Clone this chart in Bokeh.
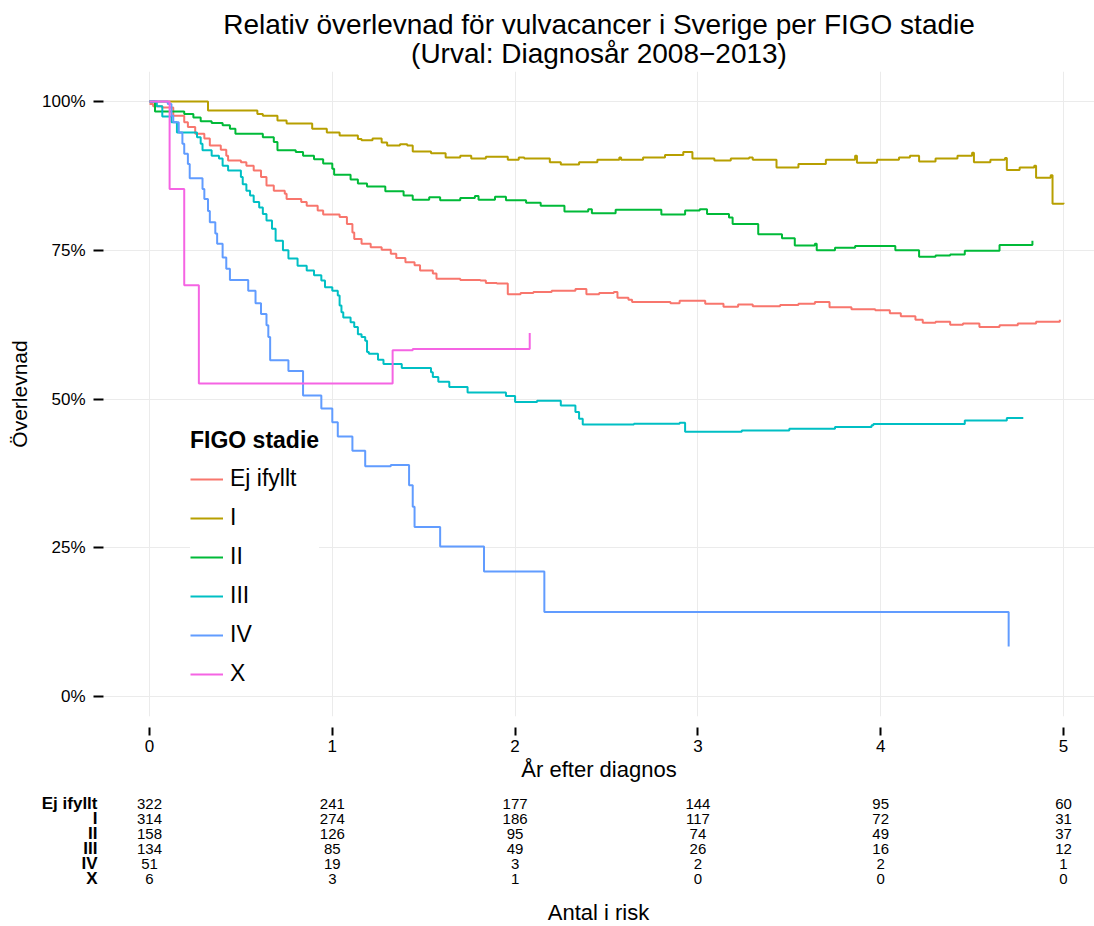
from bokeh.plotting import figure
from bokeh.models import (Range1d, FixedTicker, NumeralTickFormatter, Legend,
                          LegendItem, Title)
from bokeh.layouts import column
from bokeh.embed import file_html
from bokeh.resources import INLINE
from bokeh.core.properties import value

# ---------------- data ----------------
stages = ["Ej ifyllt", "I", "II", "III", "IV", "X"]
colors = ["#F8766D", "#B79F00", "#00BA38", "#00BFC4", "#619CFF", "#F564E3"]

t_ej = [0, 0.02, 0.07, 0.13, 0.19, 0.21, 0.25, 0.30, 0.33, 0.39,
        0.42, 0.43, 0.50, 0.53, 0.57, 0.61, 0.64, 0.68, 0.74, 0.75,
        0.83, 0.86, 0.92, 0.95, 1.04, 1.08, 1.11, 1.12, 1.16, 1.21,
        1.27, 1.32, 1.35, 1.40, 1.45, 1.48, 1.55, 1.57, 1.70, 1.81,
        1.84, 1.90, 1.96, 2.03, 2.10, 2.20, 2.33, 2.39, 2.46, 2.54,
        2.56, 2.62, 2.64, 2.85, 2.90, 3.04, 3.14, 3.22, 3.30, 3.45,
        3.55, 3.64, 3.72, 3.84, 3.97, 4.05, 4.11, 4.19, 4.23, 4.30,
        4.38, 4.45, 4.54, 4.65, 4.75, 4.85, 4.98]
s_ej = [99.6, 99.2, 99.0, 97.6, 96.5, 95.7, 94.6, 93.8, 92.6, 91.9,
        90.9, 90.1, 89.8, 89.2, 88.4, 87.3, 85.9, 85.0, 84.5, 83.6,
        83.1, 82.5, 81.7, 81.0, 80.6, 79.4, 78.0, 76.9, 76.1, 75.5,
        75.1, 74.4, 73.7, 73.0, 72.5, 71.6, 71.1, 70.2, 70.0, 69.9,
        69.5, 69.4, 67.6, 67.8, 68.0, 68.2, 68.5, 67.6, 67.8, 68.0,
        67.0, 66.7, 66.3, 66.1, 66.5, 66.0, 65.5, 65.9, 65.6, 65.8,
        66.0, 66.3, 65.4, 65.1, 64.9, 64.4, 63.9, 63.3, 62.8, 63.0,
        62.5, 62.7, 62.1, 62.4, 62.7, 63.0, 63.3]

t_i = [0, 0.32, 0.59, 0.62, 0.70, 0.75, 0.89, 0.97, 1.04, 1.14,
       1.16, 1.22, 1.27, 1.30, 1.37, 1.41, 1.44, 1.54, 1.62, 1.70,
       1.76, 1.84, 1.96, 2.02, 2.05, 2.19, 2.25, 2.35, 2.45, 2.57,
       2.58, 2.70, 2.82, 2.92, 2.97, 3.09, 3.18, 3.28, 3.30, 3.43,
       3.55, 3.70, 3.86, 3.87, 3.98, 4.10, 4.16, 4.21, 4.30, 4.42,
       4.50, 4.51, 4.60, 4.68, 4.69, 4.76, 4.84, 4.85, 4.93, 4.94,
       5.0]
s_i = [100, 98.5, 97.9, 97.6, 96.8, 96.3, 95.4, 94.8, 94.3, 93.7,
       93.5, 93.8, 93.1, 92.6, 92.8, 92.6, 91.6, 91.3, 90.6, 90.9,
       90.4, 90.7, 90.2, 90.6, 90.4, 89.8, 89.4, 89.8, 90.2, 90.6,
       90.2, 90.6, 91.0, 91.5, 90.4, 90.1, 90.4, 90.6, 90.2, 88.9,
       89.5, 90.2, 90.9, 89.7, 90.2, 90.6, 90.9, 89.9, 90.4, 90.9,
       91.4, 89.8, 90.2, 90.5, 88.5, 88.9, 89.2, 87.2, 87.6, 82.8,
       83.0]

t_ii = [0, 0.03, 0.19, 0.24, 0.28, 0.34, 0.40, 0.44, 0.47, 0.62,
        0.68, 0.70, 0.80, 0.84, 0.90, 0.95, 1.0, 1.01, 1.10, 1.14,
        1.19, 1.29, 1.39, 1.44, 1.53, 1.59, 1.70, 1.78, 1.80, 1.89,
        1.95, 2.06, 2.14, 2.27, 2.40, 2.42, 2.55, 2.80, 2.93, 3.01,
        3.05, 3.17, 3.19, 3.33, 3.46, 3.53, 3.64, 3.65, 3.75, 3.86,
        4.08, 4.21, 4.30, 4.38, 4.46, 4.65, 4.83]
s_ii = [100, 98.3, 97.9, 97.3, 96.7, 96.4, 96.0, 95.4, 94.6, 94.0,
        93.2, 91.8, 91.5, 90.9, 90.3, 89.6, 88.7, 87.7, 86.9, 86.2,
        85.7, 84.9, 84.2, 83.5, 83.9, 83.4, 83.8, 84.1, 83.5, 84.0,
        83.4, 83.0, 82.5, 81.5, 81.9, 81.2, 81.8, 81.0, 81.7, 81.9,
        81.1, 80.5, 79.4, 77.7, 77.0, 75.8, 76.1, 75.0, 75.4, 75.7,
        75.0, 73.9, 74.1, 74.3, 74.9, 75.9, 76.6]

t_iii = [0, 0.04, 0.07, 0.12, 0.15, 0.26, 0.28, 0.29, 0.34, 0.38,
         0.40, 0.43, 0.50, 0.51, 0.53, 0.55, 0.57, 0.60, 0.62, 0.64,
         0.67, 0.69, 0.73, 0.76, 0.81, 0.86, 0.90, 0.94, 0.96, 1.0,
         1.03, 1.04, 1.05, 1.06, 1.10, 1.12, 1.14, 1.16, 1.18, 1.19,
         1.20, 1.25, 1.28, 1.38, 1.54, 1.55, 1.58, 1.64, 1.74, 1.95,
         2.0, 2.12, 2.25, 2.33, 2.35, 2.37, 2.65, 2.90, 2.93, 3.24,
         3.50, 3.75, 3.95, 3.96, 4.46, 4.69, 4.78]
s_iii = [100, 99.2, 97.5, 96.5, 94.8, 94.0, 92.9, 91.8, 90.9, 90.4,
         89.2, 88.4, 87.3, 86.1, 85.0, 84.2, 83.1, 82.2, 81.1, 80.0,
         78.6, 76.6, 75.0, 73.6, 72.4, 71.6, 70.8, 69.9, 68.8, 68.2,
         67.4, 65.7, 64.6, 63.7, 62.9, 62.1, 60.9, 60.4, 59.8, 57.9,
         57.6, 56.6, 55.9, 55.2, 54.5, 53.7, 52.9, 52.0, 51.1, 50.5,
         49.5, 49.7, 48.9, 47.8, 46.7, 45.7, 45.85, 46.0, 44.5, 44.7,
         45.0, 45.3, 45.6, 45.8, 46.4, 46.8, 46.8]

t_iv = [0, 0.10, 0.12, 0.13, 0.16, 0.18, 0.19, 0.21, 0.22, 0.29,
        0.30, 0.32, 0.33, 0.36, 0.37, 0.40, 0.42, 0.44, 0.54, 0.58,
        0.61, 0.64, 0.65, 0.66, 0.76, 0.84, 0.94, 1.0, 1.03, 1.11,
        1.18, 1.32, 1.42, 1.44, 1.45, 1.59, 1.83, 2.16, 4.70]
s_iv = [100, 99.6, 97.6, 96.5, 94.8, 92.9, 91.2, 89.5, 87.1, 85.3,
        83.6, 81.6, 79.7, 77.8, 76.1, 73.8, 71.9, 70.0, 68.2, 66.1,
        64.3, 62.4, 60.4, 56.5, 54.7, 50.6, 48.4, 46.1, 43.7, 41.3,
        38.7, 38.9, 35.5, 31.9, 28.5, 25.2, 21.0, 14.2, 8.4]

t_x = [0, 0.11, 0.19, 0.27, 1.33, 1.44, 2.08]
s_x = [100, 85.3, 69.1, 52.6, 58.2, 58.4, 61.1]

risk_times = [0, 1, 2, 3, 4, 5]
risk_ej = [322, 241, 177, 144, 95, 60]
risk_i = [314, 274, 186, 117, 72, 31]
risk_ii = [158, 126, 95, 74, 49, 37]
risk_iii = [134, 85, 49, 26, 16, 12]
risk_iv = [51, 19, 3, 2, 2, 1]
risk_x = [6, 3, 1, 0, 0, 0]

x_ticks = [0, 1, 2, 3, 4, 5]
y_ticks = [0, 0.25, 0.5, 0.75, 1.0]

series_t = [t_ej, t_i, t_ii, t_iii, t_iv, t_x]
series_s = [s_ej, s_i, s_ii, s_iii, s_iv, s_x]
risk_rows = [risk_ej, risk_i, risk_ii, risk_iii, risk_iv, risk_x]

# ---------------- layout constants (pixels) ----------------
W = 1094
MAIN_H = 790
RISK_H = 926 - MAIN_H
X0_PX = 149.0          # screen x of year 0
PX_PER_YEAR = 182.8
FRAME_LEFT = 103
FRAME_TOP = 71
FRAME_BOTTOM = 716
Y0_PX = 696.0
Y100_PX = 101.0
PX_PER_UNIT = Y0_PX - Y100_PX

FONT = "Liberation Sans"

x_start = (FRAME_LEFT - X0_PX) / PX_PER_YEAR
x_end = (W - X0_PX) / PX_PER_YEAR
y_start = -(FRAME_BOTTOM - Y0_PX) / PX_PER_UNIT
y_end = 1 + (Y100_PX - FRAME_TOP) / PX_PER_UNIT

p = figure(width=W, height=MAIN_H, output_backend="svg", toolbar_location=None,
           x_range=Range1d(x_start, x_end), y_range=Range1d(y_start, y_end),
           min_border_left=FRAME_LEFT, min_border_right=0,
           min_border_top=FRAME_TOP, min_border_bottom=MAIN_H - FRAME_BOTTOM)
p.title.visible = False
p.outline_line_color = None
p.background_fill_color = "white"
p.border_fill_color = "white"

for g in (p.xgrid, p.ygrid):
    g.grid_line_color = "#EBEBEB"
    g.grid_line_width = 1
    g.minor_grid_line_color = None

xa = p.xaxis[0]
xa.ticker = FixedTicker(ticks=x_ticks)
xa.axis_line_color = None
xa.major_tick_line_color = "black"
xa.major_tick_line_width = 2
xa.minor_tick_line_color = None
xa.major_tick_in = -11
xa.major_tick_out = 19
xa.major_label_standoff = 4
xa.major_label_text_font = FONT
xa.major_label_text_font_size = "17px"
xa.major_label_text_color = "black"
xa.axis_label = "År efter diagnos"
xa.axis_label_text_font = FONT
xa.axis_label_text_font_size = "22px"
xa.axis_label_text_font_style = "normal"
xa.axis_label_text_color = "black"
xa.axis_label_standoff = 2

ya = p.yaxis[0]
ya.ticker = FixedTicker(ticks=y_ticks)
ya.formatter = NumeralTickFormatter(format="0%")
ya.axis_line_color = None
ya.major_tick_line_color = "black"
ya.major_tick_line_width = 2
ya.minor_tick_line_color = None
ya.major_tick_in = 0
ya.major_tick_out = 10
ya.major_label_standoff = 8
ya.major_label_text_font = FONT
ya.major_label_text_font_size = "17px"
ya.major_label_text_color = "black"
ya.axis_label = "Överlevnad"
ya.axis_label_text_font = FONT
ya.axis_label_text_font_size = "21px"
ya.axis_label_text_font_style = "normal"
ya.axis_label_text_color = "black"
ya.axis_label_standoff = 8

items = []
for name, ts, ss, c in zip(stages, series_t, series_s, colors):
    r = p.step(ts, [v / 100.0 for v in ss], mode="after",
               line_color=c, line_width=2)
    items.append(LegendItem(label=name, renderers=[r]))

legend = Legend(items=items, title="FIGO stadie", location=(87, 29))
legend.title_text_font = FONT
legend.title_text_font_style = "bold"
legend.title_text_font_size = "23px"
legend.title_text_color = "black"
legend.title_standoff = 11
legend.label_text_font = FONT
legend.label_text_font_size = "23px"
legend.label_text_color = "black"
legend.label_height = 26
legend.glyph_height = 26
legend.glyph_width = 33
legend.label_standoff = 7
legend.spacing = 12
legend.padding = 12
legend.margin = 0
legend.border_line_color = None
legend.background_fill_color = "white"
legend.background_fill_alpha = 1.0
p.add_layout(legend)

p.add_layout(Title(text="(Urval: Diagnosår 2008−2013)",
                   align="center", text_font=FONT, text_font_size="28px",
                   text_font_style="normal", text_color="black",
                   standoff=5, offset=5), "above")
p.add_layout(Title(text="Relativ överlevnad för vulvacancer i Sverige per FIGO stadie",
                   align="center", text_font=FONT, text_font_size="28px",
                   text_font_style="normal", text_color="black",
                   standoff=-13, offset=5), "above")

# ---------------- risk table ----------------
row_px = [13, 28, 43, 58, 73, 88]

rk = figure(width=W, height=RISK_H, output_backend="svg", toolbar_location=None,
            x_range=Range1d(x_start, x_end),
            y_range=Range1d(RISK_H, 0),
            x_axis_location=None, y_axis_location="left",
            min_border_left=FRAME_LEFT, min_border_right=0,
            min_border_top=0, min_border_bottom=0)
rk.title.visible = False
rk.outline_line_color = None
rk.grid.visible = False
rya = rk.yaxis[0]
rya.ticker = FixedTicker(ticks=row_px)
rya.major_label_overrides = {yy: name for yy, name in zip(row_px, stages)}
rya.axis_line_color = None
rya.major_tick_line_color = None
rya.minor_tick_line_color = None
rya.major_tick_in = 0
rya.major_tick_out = 0
rya.major_label_standoff = 6
rya.major_label_text_font = FONT
rya.major_label_text_font_style = "bold"
rya.major_label_text_font_size = "17px"
rya.major_label_text_color = "black"

for counts, yy in zip(risk_rows, row_px):
    rk.text(x=risk_times, y=[yy] * len(risk_times),
            text=[str(v) for v in counts], text_align="center",
            text_baseline="middle", text_font=value(FONT),
            text_font_size="15px", text_color="black")
rk.text(x=[(598 - X0_PX) / PX_PER_YEAR], y=[122], text=["Antal i risk"],
        text_align="center", text_baseline="middle", text_font=value(FONT),
        text_font_size="22px", text_color="black")

layout = column(p, rk, spacing=0)
open("out.html", "w").write(file_html(layout, INLINE))
